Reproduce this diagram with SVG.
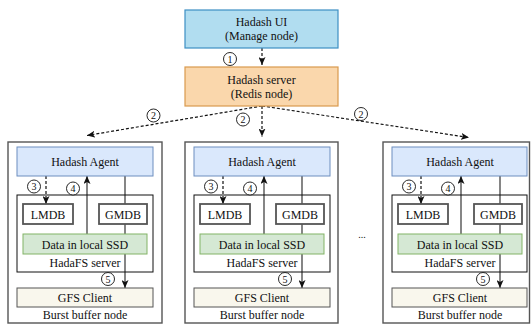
<svg xmlns="http://www.w3.org/2000/svg" width="531" height="324" viewBox="0 0 531 324" font-family="'Liberation Serif', 'Times New Roman', 'DejaVu Serif', serif">
<defs>
<style>
text{font-family:'Liberation Serif','Times New Roman','DejaVu Serif',serif;font-size:12px;fill:#111;text-anchor:middle}
.num{font-size:10px}
.circ{fill:#fff;stroke:#111;stroke-width:0.9}
.dash{fill:none;stroke:#111;stroke-width:1.2;stroke-dasharray:3 2}
.solid{fill:none;stroke:#222;stroke-width:1.1}
.outer{fill:none;stroke:#555;stroke-width:1.4}
.agent{fill:#dae8fc;stroke:#6c8ebf;stroke-width:1}
.hfs{fill:none;stroke:#111;stroke-width:1}
.db{fill:#fff;stroke:#555;stroke-width:1.8}
.ssd{fill:#d5e8d4;stroke:#82b366;stroke-width:1}
.gfs{fill:#f9f7ed;stroke:#555;stroke-width:1}
</style>
<marker id="ah" viewBox="0 0 8 7" refX="8" refY="3.5" markerWidth="8" markerHeight="7" markerUnits="userSpaceOnUse" orient="auto">
<path d="M0,0 L8,3.5 L0,7 L2,3.5 z" fill="#111"/>
</marker>
</defs>
<rect width="531" height="324" fill="#fff"/>
<g id="connectors">
<line class="dash" x1="262" y1="48" x2="262" y2="65" marker-end="url(#ah)"/>
<line class="dash" x1="262" y1="106" x2="87" y2="135.5" marker-end="url(#ah)"/>
<line class="dash" x1="262" y1="106" x2="262" y2="136.5" marker-end="url(#ah)"/>
<line class="dash" x1="262" y1="106" x2="469" y2="137.5" marker-end="url(#ah)"/>
<g id="inner-arrows-1">
<line class="dash" x1="46" y1="176" x2="46" y2="204" marker-end="url(#ah)"/>
<line class="solid" x1="87" y1="234" x2="87" y2="176" marker-end="url(#ah)"/>
<line class="solid" x1="125" y1="176" x2="125" y2="288" marker-end="url(#ah)"/>
</g>
<g transform="translate(177,0)">
<line class="dash" x1="46" y1="176" x2="46" y2="204" marker-end="url(#ah)"/>
<line class="solid" x1="87" y1="234" x2="87" y2="176" marker-end="url(#ah)"/>
<line class="solid" x1="125" y1="176" x2="125" y2="288" marker-end="url(#ah)"/>
</g>
<g transform="translate(375,0)">
<line class="dash" x1="46" y1="176" x2="46" y2="204" marker-end="url(#ah)"/>
<line class="solid" x1="86" y1="234" x2="86" y2="176" marker-end="url(#ah)"/>
<line class="solid" x1="125" y1="176" x2="125" y2="288" marker-end="url(#ah)"/>
</g>
<g id="labels">
<circle class="circ" cx="230" cy="59" r="6.5"/><text class="num" x="230" y="62.5">1</text>
<circle class="circ" cx="153.5" cy="115.5" r="6.5"/><text class="num" x="153.5" y="119">2</text>
<circle class="circ" cx="243" cy="119.5" r="6.5"/><text class="num" x="243" y="123">2</text>
<circle class="circ" cx="361" cy="114" r="6.5"/><text class="num" x="361" y="117.5">2</text>
</g>
</g>
<g id="hadash-ui">
<rect x="185" y="10" width="153" height="38" fill="#b1ddf0" stroke="#3d8fc4" stroke-width="1.2"/>
<text x="261.5" y="26">Hadash UI</text>
<text x="261.5" y="40">(Manage node)</text>
</g>
<g id="hadash-server">
<rect x="185" y="67" width="153" height="39" fill="#fad7ac" stroke="#d99a4e" stroke-width="1.2"/>
<text x="261.5" y="84">Hadash server</text>
<text x="261.5" y="98">(Redis node)</text>
</g>
<g id="burst-node-1">
<rect class="outer" x="8" y="142" width="154" height="181"/>
<rect class="agent" x="17" y="147" width="136" height="29"/>
<text x="85" y="166">Hadash Agent</text>
<rect class="hfs" x="17" y="195" width="136" height="77"/>
<rect class="db" x="23" y="204" width="50" height="20"/>
<text x="48" y="218.5">LMDB</text>
<rect class="db" x="99" y="204" width="48" height="20"/>
<text x="123" y="218.5">GMDB</text>
<rect class="ssd" x="23" y="234" width="124" height="20"/>
<text x="85" y="248.5">Data in local SSD</text>
<text x="85" y="266.5">HadaFS server</text>
<rect class="gfs" x="17" y="288" width="136" height="19"/>
<text x="85" y="301.5">GFS Client</text>
<text x="85" y="319">Burst buffer node</text>
<circle class="circ" cx="34" cy="186.5" r="6.5"/><text class="num" x="34" y="190">3</text>
<circle class="circ" cx="73" cy="188.5" r="6.5"/><text class="num" x="73" y="192">4</text>
<circle class="circ" cx="108" cy="279" r="6.5"/><text class="num" x="108" y="282.5">5</text>
</g>
<g id="burst-node-2" transform="translate(177,0)">
<rect class="outer" x="8" y="142" width="153" height="181"/>
<rect class="agent" x="17" y="147" width="136" height="29"/>
<text x="85" y="166">Hadash Agent</text>
<rect class="hfs" x="17" y="195" width="136" height="77"/>
<rect class="db" x="23" y="204" width="50" height="20"/>
<text x="48" y="218.5">LMDB</text>
<rect class="db" x="99" y="204" width="48" height="20"/>
<text x="123" y="218.5">GMDB</text>
<rect class="ssd" x="23" y="234" width="124" height="20"/>
<text x="85" y="248.5">Data in local SSD</text>
<text x="85" y="266.5">HadaFS server</text>
<rect class="gfs" x="17" y="288" width="136" height="19"/>
<text x="85" y="301.5">GFS Client</text>
<text x="85" y="319">Burst buffer node</text>
<circle class="circ" cx="34" cy="186.5" r="6.5"/><text class="num" x="34" y="190">3</text>
<circle class="circ" cx="73" cy="188.5" r="6.5"/><text class="num" x="73" y="192">4</text>
<circle class="circ" cx="108" cy="279" r="6.5"/><text class="num" x="108" y="282.5">5</text>
</g>
<g id="burst-node-3" transform="translate(375,0)">
<rect class="outer" x="8" y="142" width="146.5" height="181"/>
<rect class="agent" x="17" y="147" width="135" height="29"/>
<text x="85" y="166">Hadash Agent</text>
<rect class="hfs" x="17" y="195" width="135" height="77"/>
<rect class="db" x="23" y="204" width="50" height="20"/>
<text x="48" y="218.5">LMDB</text>
<rect class="db" x="99" y="204" width="48" height="20"/>
<text x="123" y="218.5">GMDB</text>
<rect class="ssd" x="23" y="234" width="124" height="20"/>
<text x="85" y="248.5">Data in local SSD</text>
<text x="85" y="266.5">HadaFS server</text>
<rect class="gfs" x="17" y="288" width="135" height="19"/>
<text x="85" y="301.5">GFS Client</text>
<text x="85" y="319">Burst buffer node</text>
<circle class="circ" cx="34" cy="186.5" r="6.5"/><text class="num" x="34" y="190">3</text>
<circle class="circ" cx="73" cy="188.5" r="6.5"/><text class="num" x="73" y="192">4</text>
<circle class="circ" cx="108" cy="279" r="6.5"/><text class="num" x="108" y="282.5">5</text>
</g>
<text x="362" y="238" style="font-size:10px">...</text>
</svg>
